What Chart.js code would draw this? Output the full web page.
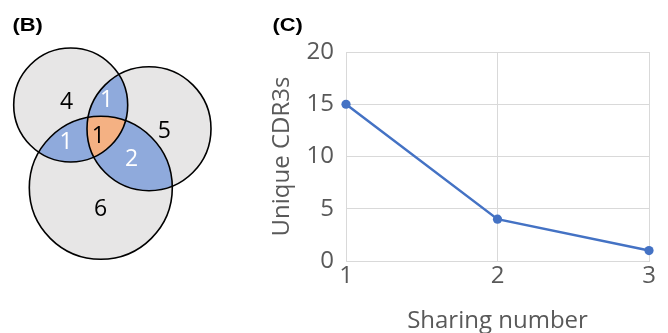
<!DOCTYPE html>
<html>
<head>
<meta charset="utf-8">
<script src="https://cdn.jsdelivr.net/npm/chart.js@4.4.1/dist/chart.umd.min.js"></script>
<style>
  html, body { margin: 0; padding: 0; background: #ffffff; }
  #page { position: relative; width: 668px; height: 333px; overflow: hidden; }
  #vennBox { position: absolute; left: 0; top: 0; width: 230px; height: 333px; }
  #lineBox { position: absolute; left: 260px; top: 0; width: 408px; height: 333px; }
</style>
</head>
<body>
<div id="page">
  <div id="vennBox"><canvas id="venn" width="230" height="333"></canvas></div>
  <div id="lineBox"><canvas id="line" width="408" height="333"></canvas></div>
</div>
<script>
// ---- Panel (B): overlap of three sets ----
const setNames = ['A', 'B', 'C'];
const regionKeys = ['A', 'B', 'C', 'AB', 'AC', 'BC', 'ABC'];
const regionCounts = [4, 5, 6, 1, 1, 2, 1];

// ---- Panel (C): unique CDR3s per sharing number ----
const sharingNumbers = [1, 2, 3];
const uniqueCdr3s = [15, 4, 1];
const yTickValues = [0, 5, 10, 15, 20];

// Drawing geometry for the set circles (in panel units) and region label anchors
const circleLayout = {
  A: { x: 70.7, y: 105, r: 57 },
  B: { x: 149, y: 128.7, r: 62 },
  C: { x: 100.8, y: 187.8, r: 71.5 }
};
const labelLayout = {
  A: [66.7, 101], B: [164.3, 130], C: [100.7, 208.5],
  AB: [106.7, 99.5], AC: [66, 141], BC: [131.7, 158.7], ABC: [98.3, 135.5]
};

const GRAY = '#e7e6e6', BLUE = '#8faadc', ORANGE = '#f4b183';
const TEXT_GRAY = '#595959';

function panelLabel(text) {
  return {
    id: 'panelLabel',
    afterDraw(chart) {
      const ctx = chart.ctx;
      ctx.save();
      ctx.font = 'bold 19px "Liberation Sans", Arial, sans-serif';
      ctx.fillStyle = '#000';
      ctx.textBaseline = 'alphabetic';
      ctx.textAlign = 'left';
      ctx.setTransform(1.15, 0, 0, 1, 0, 0);
      ctx.fillText(text, 12.5 / 1.15, 30.5);
      ctx.restore();
    }
  };
}

// Circle geometry in canvas pixels, read through the chart's scales
function circlePx(chart, k) {
  const xs = chart.scales.x, ys = chart.scales.y, c = circleLayout[k];
  return {
    x: xs.getPixelForValue(c.x),
    y: ys.getPixelForValue(c.y),
    r: Math.abs(xs.getPixelForValue(c.r) - xs.getPixelForValue(0))
  };
}

// Fills circles and their overlaps, then outlines and region counts
const vennDraw = {
  id: 'vennDraw',
  beforeDatasetsDraw(chart) {
    const ctx = chart.ctx;
    const path = k => { const c = circlePx(chart, k); ctx.beginPath(); ctx.arc(c.x, c.y, c.r, 0, Math.PI * 2); };
    ctx.save();
    ctx.fillStyle = GRAY;
    setNames.forEach(k => { path(k); ctx.fill(); });
    const fillIntersection = (keys, color) => {
      ctx.save();
      keys.slice(0, -1).forEach(k => { path(k); ctx.clip(); });
      path(keys[keys.length - 1]);
      ctx.fillStyle = color;
      ctx.fill();
      ctx.restore();
    };
    fillIntersection(['A', 'B'], BLUE);
    fillIntersection(['A', 'C'], BLUE);
    fillIntersection(['B', 'C'], BLUE);
    fillIntersection(['A', 'B', 'C'], ORANGE);
    ctx.restore();
  },
  afterDatasetsDraw(chart) {
    const ctx = chart.ctx, xs = chart.scales.x, ys = chart.scales.y;
    ctx.save();
    ctx.strokeStyle = '#000000';
    ctx.lineWidth = 1.6;
    setNames.forEach(k => {
      const c = circlePx(chart, k);
      ctx.beginPath(); ctx.arc(c.x, c.y, c.r, 0, Math.PI * 2); ctx.stroke();
    });
    ctx.font = '23px "Open Sans", sans-serif';
    ctx.textAlign = 'center';
    ctx.textBaseline = 'middle';
    regionKeys.forEach((key, i) => {
      const [lx, ly] = labelLayout[key];
      ctx.fillStyle = (key.length === 2) ? '#ffffff' : '#000000';
      ctx.fillText(String(regionCounts[i]), xs.getPixelForValue(lx), ys.getPixelForValue(ly) + 1);
    });
    ctx.restore();
  }
};

new Chart(document.getElementById('venn'), {
  type: 'scatter',
  data: {
    datasets: [{
      data: setNames.map(k => ({ x: circleLayout[k].x, y: circleLayout[k].y })),
      pointRadius: 0,
      showLine: false
    }]
  },
  options: {
    responsive: false,
    animation: false,
    events: [],
    devicePixelRatio: 1,
    layout: { padding: 0 },
    plugins: { legend: { display: false }, tooltip: { enabled: false } },
    scales: {
      x: { type: 'linear', min: 0, max: 230, display: false },
      y: { type: 'linear', min: 0, max: 333, reverse: true, display: false }
    }
  },
  plugins: [vennDraw, panelLabel('(B)')]
});

const tickFont = { family: '"Open Sans", sans-serif', size: 24 };
new Chart(document.getElementById('line'), {
  type: 'line',
  data: {
    datasets: [{
      data: sharingNumbers.map((x, i) => ({ x, y: uniqueCdr3s[i] })),
      borderColor: '#4472c4',
      backgroundColor: '#4472c4',
      borderWidth: 2.5,
      pointRadius: 4.6,
      pointBorderWidth: 0,
      tension: 0,
      clip: false
    }]
  },
  options: {
    responsive: false,
    animation: false,
    events: [],
    devicePixelRatio: 1,
    layout: { padding: { top: 52, right: 19, left: 0, bottom: 0 } },
    plugins: { legend: { display: false }, tooltip: { enabled: false } },
    scales: {
      x: {
        type: 'linear', min: 1, max: 3,
        afterBuildTicks: s => { s.ticks = sharingNumbers.map(v => ({ value: v })); },
        afterFit: s => { s.height = 72; },
        grid: { color: '#d9d9d9', lineWidth: 1, drawTicks: false },
        border: { color: '#d9d9d9', width: 1 },
        ticks: { font: tickFont, color: TEXT_GRAY, padding: 1, maxRotation: 0 },
        title: { display: true, text: 'Sharing number', font: tickFont, color: TEXT_GRAY, padding: { top: 0, bottom: -3 } }
      },
      y: {
        type: 'linear', min: 0, max: 20,
        afterBuildTicks: s => { s.ticks = yTickValues.map(v => ({ value: v })); },
        afterFit: s => { s.width = 86; },
        grid: { color: '#d9d9d9', lineWidth: 1, drawTicks: false },
        border: { color: '#d9d9d9', width: 1 },
        ticks: { font: tickFont, color: TEXT_GRAY, padding: 12 },
        title: { display: true, text: 'Unique CDR3s', font: tickFont, color: TEXT_GRAY, padding: { top: 8, bottom: 0 } }
      }
    }
  },
  plugins: [panelLabel('(C)')]
});
</script>
</body>
</html>
